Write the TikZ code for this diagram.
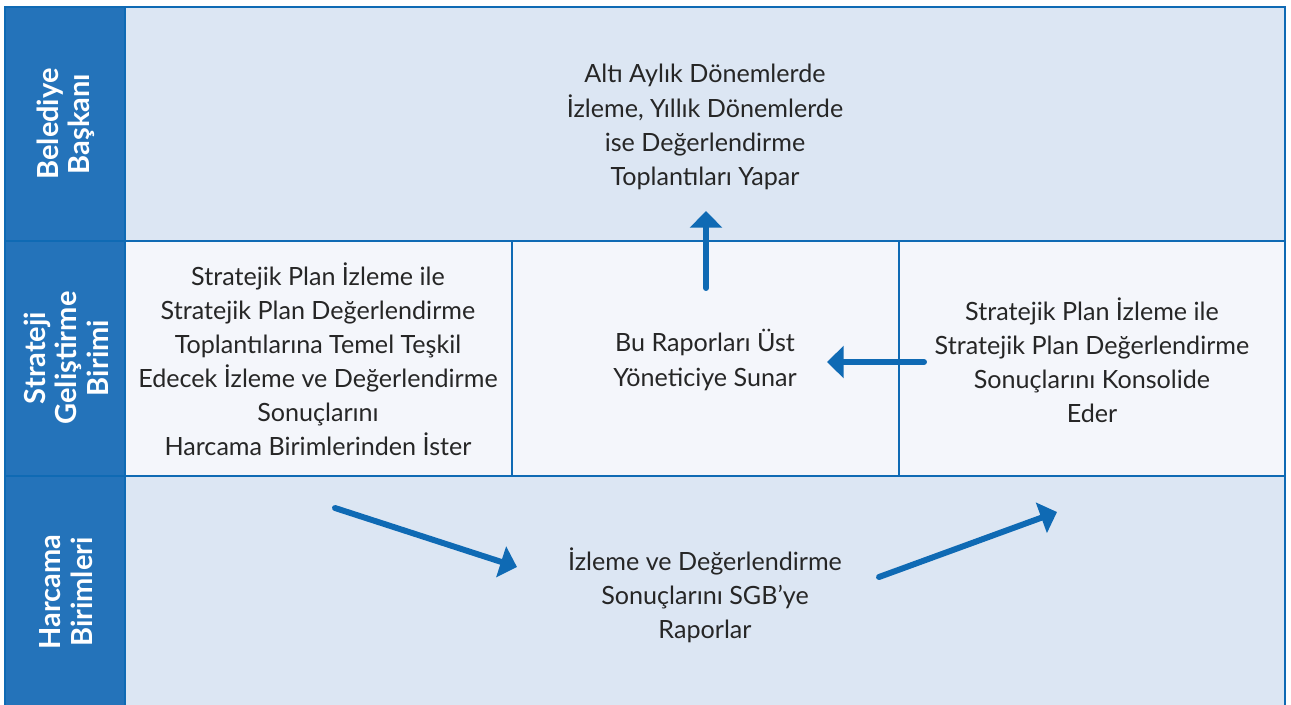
\documentclass[tikz,border=0pt]{standalone}
\usepackage{fontspec}
\setmainfont{Lato}
\usetikzlibrary{arrows.meta}

\definecolor{laneblue}{HTML}{2473BA}
\definecolor{edgeblue}{HTML}{0F6AB4}
\definecolor{rowlight}{HTML}{DCE6F3}
\definecolor{rowpale}{HTML}{F4F6FB}
\definecolor{inktext}{HTML}{262626}

\begin{document}
\begin{tikzpicture}[x=0.02cm, y=-0.02cm,
    celltext/.style={align=center, text=inktext, font=\fontsize{14.3}{19.4}\selectfont},
    lanetext/.style={align=center, text=white, rotate=90, font=\bfseries\fontsize{16.5}{17.8}\selectfont},
    flow/.style={edgeblue, line width=3.4pt, line cap=round, -{Triangle[width=18pt,length=9.5pt]}}]
    \useasboundingbox (0,0) rectangle (1291,704);

    % rows
    \fill[rowlight] (125,7) rectangle (1285,241);
    \fill[rowpale] (125,241) rectangle (1285,476);
    \fill[rowlight] (125,476) rectangle (1285,706);
    \fill[laneblue] (5,7) rectangle (125,706);

    % grid
    \draw[edgeblue, line width=1.4pt] (5,706) -- (5,7) -- (1285,7) -- (1285,706);
    \draw[edgeblue, line width=1.4pt] (125,7) -- (125,706);
    \draw[edgeblue, line width=1.4pt] (5,241) -- (1285,241);
    \draw[edgeblue, line width=1.4pt] (5,476) -- (1285,476);
    \draw[edgeblue, line width=0.9pt] (512,241) -- (512,476);
    \draw[edgeblue, line width=0.9pt] (899,241) -- (899,476);

    % lane labels
    \node[lanetext] (belediye) at (66,124) {Belediye\\Başkanı};
    \node[lanetext] (strateji) at (66,358) {Strateji\\Geliştirme\\Birimi};
    \node[lanetext] (harcama) at (66,592) {Harcama\\Birimleri};

    % cell texts
    \node[celltext] (toplanti) at (705,127) {Altı Aylık Dönemlerde\\İzleme, Yıllık Dönemlerde\\ise Değerlendirme\\Toplantıları Yapar};
    \node[celltext] (isteme) at (318,359) {Stratejik Plan İzleme ile\\Stratejik Plan Değerlendirme\\Toplantılarına Temel Teşkil\\Edecek İzleme ve Değerlendirme\\Sonuçlarını\\Harcama Birimlerinden İster};
    \node[celltext] (sunma) at (705,360) {Bu Raporları Üst\\Yöneticiye Sunar};
    \node[celltext] (konsolide) at (1092,360) {Stratejik Plan İzleme ile\\Stratejik Plan Değerlendirme\\Sonuçlarını Konsolide\\Eder};
    \node[celltext] (raporlama) at (705,595) {İzleme ve Değerlendirme\\Sonuçlarını SGB’ye\\Raporlar};

    % arrows
    \coordinate (upFrom) at (706,288);
    \coordinate (upTo) at (706,211);
    \coordinate (leftFrom) at (924,362);
    \coordinate (leftTo) at (827,362);
    \coordinate (downFrom) at (335,508);
    \coordinate (downTo) at (517,567);
    \coordinate (riseFrom) at (879,577);
    \coordinate (riseTo) at (1057,512);
    \draw[flow] (upFrom) -- (upTo);
    \draw[flow] (leftFrom) -- (leftTo);
    \draw[flow] (downFrom) -- (downTo);
    \draw[flow] (riseFrom) -- (riseTo);
\end{tikzpicture}
\end{document}
